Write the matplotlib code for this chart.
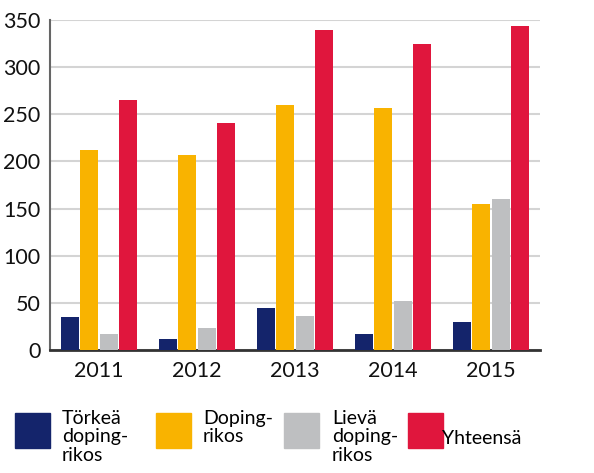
import numpy as np
import matplotlib.pyplot as plt
from matplotlib.patches import Rectangle

plt.rcParams['font.family'] = ['Lato', 'DejaVu Sans']

years = ["2011", "2012", "2013", "2014", "2015"]
torkea = [35, 12, 45, 17, 30]
doping = [212, 207, 260, 257, 155]
lieva = [17, 23, 36, 52, 160]
yhteensa = [265, 241, 339, 325, 344]

labels = ["Törkeä\ndoping-\nrikos", "Doping-\nrikos", "Lievä\ndoping-\nrikos", "Yhteensä"]
colors = ["#14246b", "#f9b300", "#bebfc1", "#e0163d"]

fig = plt.figure(figsize=(5.94, 4.73), dpi=100)
ax = fig.add_axes([50/594, 1 - 350/473, 490/594, 330/473])

x = np.arange(len(years))
w = 0.185
step = 0.2
for i, vals in enumerate([torkea, doping, lieva, yhteensa]):
    ax.bar(x + (i - 1.5) * step, vals, width=w, color=colors[i], zorder=3)

ax.set_xlim(-0.5, 4.5)
ax.set_ylim(0, 350)
ax.set_yticks(range(0, 351, 50))
ax.yaxis.grid(True, color="#d4d4d4", linewidth=1.5, zorder=0)
ax.set_xticks(x)
ax.set_xticklabels(years)
ax.tick_params(axis="both", length=0, labelsize=15.5, colors="#111111")
ax.tick_params(axis="y", pad=7)
ax.tick_params(axis="x", pad=8)
for s in ["top", "right"]:
    ax.spines[s].set_visible(False)
ax.spines["left"].set_color("#666666")
ax.spines["left"].set_linewidth(1.5)
ax.spines["bottom"].set_color("#333333")
ax.spines["bottom"].set_linewidth(2)

# legend drawn by hand
box_x = [15, 156, 284, 408]
text_x = [62, 203, 332, 442]
for i in range(4):
    fig.patches.append(Rectangle((box_x[i]/594, 1 - 448/473), 35/594, 35/473,
                                 transform=fig.transFigure, color=colors[i]))
    if i == 3:
        fig.text(text_x[i]/594, 1 - 438/473, labels[i], fontsize=14, va="center", ha="left")
    else:
        fig.text(text_x[i]/594, 1 - 410/473, labels[i], fontsize=14, va="top", ha="left",
                 linespacing=1.1)

fig.savefig("out.png", dpi=100)
